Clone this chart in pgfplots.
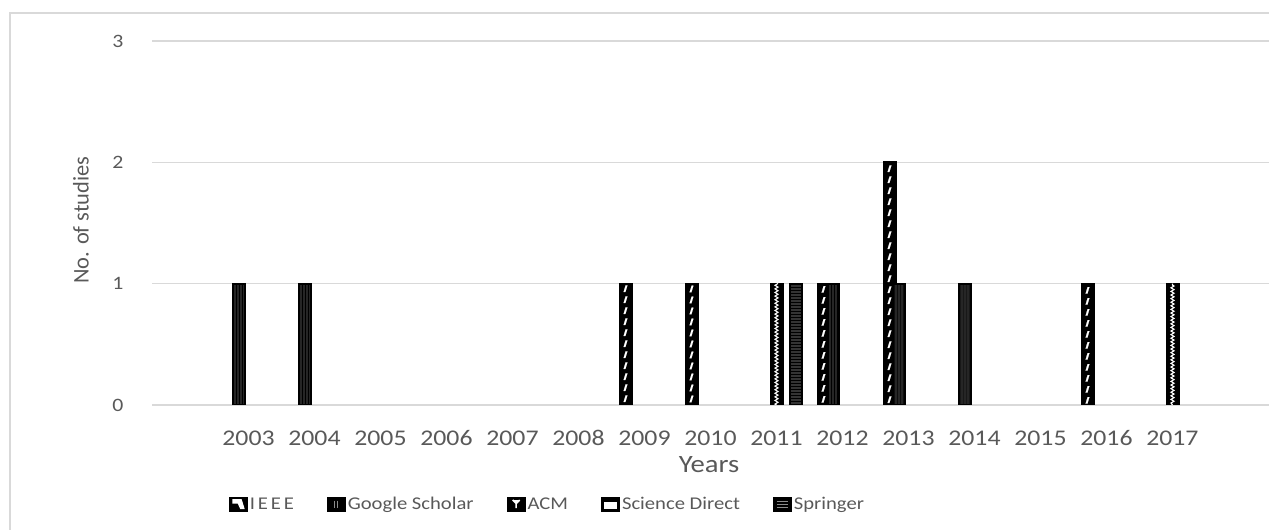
\documentclass[border=0pt]{standalone}
\usepackage{fontspec}
\setmainfont{Carlito}[FakeStretch=1.15]
\newfontfamily\plainfont{Carlito}
\usepackage{pgfplots}
\pgfplotsset{compat=1.18}
\usetikzlibrary{patterns,decorations.markings,decorations.pathmorphing}
\definecolor{txt}{HTML}{595959}
\definecolor{gridc}{HTML}{D9D9D9}

\pgfplotsset{
  ieee/.style={draw=black, line width=2bp, fill=black,
    legend image code/.code={
      \fill[black] (0bp,-6.5bp) rectangle (17bp,6.5bp);
      \fill[white] (3.5bp,4bp) -- (11bp,4bp) -- (13.5bp,-4bp) -- (11bp,-4bp) -- (8.5bp,1.5bp) -- (3.5bp,1.5bp) -- cycle;}},
  gs/.style={draw=black, line width=2bp, preaction={fill=black!85}, pattern=vertical lines, pattern color=black,
    legend image code/.code={
      \fill[black] (0bp,-6.5bp) rectangle (17bp,6.5bp);
      \draw[black!45, line width=1.2bp] (7bp,-3.5bp) -- (7bp,3.5bp) (10bp,-3.5bp) -- (10bp,3.5bp);}},
  acm/.style={draw=black, line width=2bp, fill=black,
    legend image code/.code={
      \fill[black] (0bp,-6.5bp) rectangle (17bp,6.5bp);
      \draw[white, line width=1.6bp] (5bp,4bp) -- (8.5bp,0.5bp) -- (12bp,4bp) (8.5bp,0.5bp) -- (8.5bp,-4bp);}},
  sd/.style={draw=black, line width=2bp, fill=black,
    legend image code/.code={
      \fill[black] (0bp,-6.5bp) rectangle (17bp,6.5bp);
      \fill[white] (3bp,-4bp) rectangle (14bp,1.5bp);}},
  spr/.style={draw=black, line width=2bp, preaction={fill=black!80}, pattern=horizontal lines, pattern color=black,
    legend image code/.code={
      \fill[black] (0bp,-6.5bp) rectangle (17bp,6.5bp);
      \draw[black!45, line width=1bp] (3bp,-3bp) -- (14bp,-3bp) (3bp,0bp) -- (14bp,0bp) (3bp,3bp) -- (14bp,3bp);}},
  ieeeovl/.style={ycomb, forget plot, xshift=-19bp, black, line width=0.1bp,
    postaction={decorate, decoration={markings,
      mark=between positions 3bp and -6bp step 11bp with {
        \fill[white] (0bp,1.9bp) -- (0bp,0.1bp) -- (6.6bp,-1.9bp) -- (6.6bp,-0.1bp) -- cycle;}}}},
  acmovl/.style={ycomb, forget plot, white, line width=1.1bp,
    decorate, decoration={zigzag, amplitude=1.5bp, segment length=3.6bp}},
}

\begin{document}
\begin{tikzpicture}
\draw[gridc, line width=2bp] (10bp,-5bp) -- (10bp,517bp) -- (1275bp,517bp);
\begin{axis}[
  at={(152bp,125bp)}, anchor=south west,
  scale only axis, width=1117bp, height=364bp,
  xmin=2001.538, xmax=2018.462, ymin=0, ymax=3,
  ybar, bar width=12bp,
  xtick={2003,...,2017}, ytick={0,1,2,3},
  /pgf/number format/1000 sep={},
  /pgf/number format/assume math mode=true,
  axis line style={draw=none}, tick style={draw=none},
  ymajorgrids, grid style={gridc, line width=1.5bp},
  xticklabel style={anchor=center, yshift=-29bp, font=\fontsize{22.5}{24}\selectfont, text=txt},
  yticklabel style={anchor=center, xshift=-34bp, font=\fontsize{19}{21}\selectfont, text=txt},
  xlabel={Years},
  xlabel style={at={(axis description cs:0.4987,-0.165)}, anchor=center, font=\fontsize{25}{27}\selectfont, text=txt},
  ylabel={No. of studies},
  ylabel style={at={(axis description cs:-0.0636,0.508)}, anchor=center, font=\plainfont\fontsize{22.5}{24}\selectfont, text=txt},
  legend columns=5,
  legend style={at={(axis description cs:0.354,-0.272)}, anchor=center, draw=none, fill=none,
    font=\fontsize{18}{20}\selectfont, text=txt,
    /tikz/every even column/.append style={column sep=31bp}},
]
\addplot[ybar, ieee, bar shift=-19bp] coordinates {(2009,1) (2010,1) (2012,1) (2013,2) (2016,1)};
\addlegendentry{{\addfontfeature{LetterSpace=16}IEEE}}
\addplot[ybar, gs, bar shift=-9.5bp] coordinates {(2003,1) (2004,1) (2012,1) (2013,1) (2014,1)};
\addlegendentry{Google Scholar}
\addplot[ybar, acm, bar shift=0bp] coordinates {(2011,1) (2017,1)};
\addlegendentry{ACM}
\addlegendimage{sd}
\addlegendentry{Science Direct}
\addplot[ybar, spr, bar shift=19bp] coordinates {(2011,1)};
\addlegendentry{Springer}
\addplot[ieeeovl] coordinates {(2009,1) (2010,1) (2012,1) (2013,2) (2016,1)};
\addplot[acmovl] coordinates {(2011,1) (2017,1)};
\end{axis}
\pgfresetboundingbox
\useasboundingbox (0,0) rectangle (1269bp,530bp);
\end{tikzpicture}
\end{document}
